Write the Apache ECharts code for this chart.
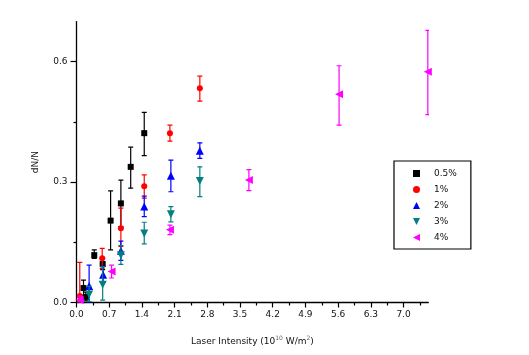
<!DOCTYPE html>
<html><head><meta charset="utf-8">
<script src="https://cdn.jsdelivr.net/npm/echarts@6/dist/echarts.min.js"></script>
<style>html,body{margin:0;padding:0;background:#fff}#c{width:529px;height:355px}</style>
</head><body><div id="c"></div>
<script>
// ---- data ----
const seriesNames = ['0.5%', '1%', '2%', '3%', '4%'];

const x05 = [0.15, 0.20, 0.38, 0.56, 0.73, 0.95, 1.16, 1.45];
const y05 = [0.036, 0.014, 0.118, 0.096, 0.204, 0.247, 0.338, 0.422];
const lo05 = [0.018, 0.004, 0.110, 0.082, 0.131, 0.189, 0.285, 0.366];
const hi05 = [0.056, 0.026, 0.131, 0.110, 0.278, 0.305, 0.387, 0.474];

const x1 = [0.07, 0.55, 0.95, 1.45, 2.00, 2.64];
const y1 = [0.016, 0.110, 0.185, 0.290, 0.422, 0.534];
const lo1 = [0.002, 0.085, 0.140, 0.260, 0.402, 0.502];
const hi1 = [0.100, 0.135, 0.235, 0.318, 0.442, 0.564];

const x2 = [0.27, 0.57, 0.95, 1.45, 2.02, 2.64];
const y2 = [0.041, 0.069, 0.129, 0.239, 0.316, 0.378];
const lo2 = [0.000, 0.050, 0.105, 0.214, 0.276, 0.359];
const hi2 = [0.093, 0.090, 0.153, 0.265, 0.355, 0.398];

const x3 = [0.27, 0.56, 0.95, 1.45, 2.02, 2.64];
const y3 = [0.020, 0.044, 0.118, 0.172, 0.220, 0.303];
const lo3 = [0.002, 0.006, 0.095, 0.146, 0.201, 0.264];
const hi3 = [0.040, 0.089, 0.142, 0.200, 0.239, 0.338];

const x4 = [0.07, 0.75, 2.00, 3.69, 5.62, 7.52];
const y4 = [0.006, 0.077, 0.181, 0.305, 0.519, 0.575];
const lo4 = [0.000, 0.061, 0.169, 0.279, 0.442, 0.468];
const hi4 = [0.016, 0.093, 0.193, 0.331, 0.590, 0.678];

const xMajorTicks = [0, 0.7, 1.4, 2.1, 2.8, 3.5, 4.2, 4.9, 5.6, 6.3, 7.0];
const xMinorTicks = [0.35, 1.05, 1.75, 2.45, 3.15, 3.85, 4.55, 5.25, 5.95, 6.65, 7.35];
const yMajorTicks = [0, 0.3, 0.6];
const yMinorTicks = [0.15, 0.45];

// ---- chart ----
const xs = [x05, x1, x2, x3, x4];
const ys = [y05, y1, y2, y3, y4];
const los = [lo05, lo1, lo2, lo3, lo4];
const his = [hi05, hi1, hi2, hi3, hi4];
const colors = ['#000000', '#ff0000', '#0000ff', '#008080', '#ff00ff'];
const symbols = ['rect', 'circle', 'triangle',
  'path://M0,0 L10,0 L5,10 Z', 'path://M10,0 L10,10 L0,5 Z'];
const sizes = [6, 6, 8, 8, 8];

const FONT = 'DejaVu Sans';
const series = [];
for (let i = 0; i < 5; i++) {
  const errData = xs[i].map((x, j) => [x, los[i][j], his[i][j]]);
  series.push({
    name: seriesNames[i] + ' err',
    type: 'custom',
    xAxisIndex: 0, yAxisIndex: 0,
    z: 2 + i * 2,
    clip: true,
    data: errData,
    encode: { x: 0, y: [1, 2] },
    renderItem: function (params, api) {
      const x = api.value(0);
      const p1 = api.coord([x, api.value(1)]);
      const p2 = api.coord([x, api.value(2)]);
      const w = 2.5;
      const st = { stroke: colors[i], lineWidth: 1.2, fill: null };
      return {
        type: 'group',
        children: [
          { type: 'line', shape: { x1: p1[0], y1: p1[1], x2: p2[0], y2: p2[1] }, style: st },
          { type: 'line', shape: { x1: p1[0] - w, y1: p1[1], x2: p1[0] + w, y2: p1[1] }, style: st },
          { type: 'line', shape: { x1: p2[0] - w, y1: p2[1], x2: p2[0] + w, y2: p2[1] }, style: st }
        ]
      };
    }
  });
  series.push({
    name: seriesNames[i],
    type: 'scatter',
    xAxisIndex: 0, yAxisIndex: 0,
    z: 3 + i * 2,
    symbol: symbols[i],
    symbolSize: sizes[i],
    itemStyle: { color: colors[i], opacity: 1 },
    data: xs[i].map((x, j) => [x, ys[i][j]])
  });
}

const chart = echarts.init(document.getElementById('c'), null, { renderer: 'canvas' });
chart.setOption({
  animation: false,
  backgroundColor: '#ffffff',
  grid: { left: 76.5, top: 21.6, right: 100.7, bottom: 52.5, containLabel: false },
  legend: {
    data: seriesNames,
    orient: 'vertical',
    left: 394, top: 161,
    padding: [8, 14, 7, 19],
    borderColor: '#000', borderWidth: 1.2,
    itemWidth: 7, itemHeight: 7, itemGap: 7,
    selectedMode: false,
    textStyle: { fontFamily: FONT, fontSize: 9, color: '#111', lineHeight: 8, padding: [0, 0, 0, 9] }
  },
  xAxis: [{
    type: 'value', min: 0, max: 7.53, position: 'bottom',
    name: 'Laser Intensity (10{s|10} W/m{s|2})',
    nameLocation: 'middle', nameGap: 33,
    nameTextStyle: { fontFamily: FONT, fontSize: 9, color: '#111',
      rich: { s: { fontSize: 6, color: '#666', padding: [0, 0, 6, 0], fontFamily: FONT } } },
    axisLine: { show: true, onZero: false, lineStyle: { color: '#000', width: 1.3 } },
    axisTick: { show: true, inside: false, length: 5, customValues: xMajorTicks, lineStyle: { color: '#000', width: 1.2 } },
    axisLabel: { show: true, margin: 8, customValues: xMajorTicks, fontFamily: FONT, fontSize: 9, color: '#111',
      formatter: v => v.toFixed(1) },
    splitLine: { show: false }
  }, {
    type: 'value', min: 0, max: 7.53, position: 'bottom',
    axisLine: { show: false, onZero: false },
    axisTick: { show: true, inside: false, length: 3, customValues: xMinorTicks, lineStyle: { color: '#000', width: 1.2 } },
    axisLabel: { show: false },
    splitLine: { show: false }
  }],
  yAxis: [{
    type: 'value', min: 0, max: 0.7, position: 'left',
    name: 'dN/N', nameLocation: 'middle', nameGap: 36,
    nameTextStyle: { fontFamily: FONT, fontSize: 9, color: '#111' },
    axisLine: { show: true, onZero: false, lineStyle: { color: '#000', width: 1.3 } },
    axisTick: { show: true, inside: false, length: 6, customValues: yMajorTicks, lineStyle: { color: '#000', width: 1.2 } },
    axisLabel: { show: true, margin: 9, customValues: yMajorTicks, fontFamily: FONT, fontSize: 9, color: '#111',
      formatter: v => v.toFixed(1) },
    splitLine: { show: false }
  }, {
    type: 'value', min: 0, max: 0.7, position: 'left',
    axisLine: { show: false, onZero: false },
    axisTick: { show: true, inside: false, length: 3, customValues: yMinorTicks, lineStyle: { color: '#000', width: 1.2 } },
    axisLabel: { show: false },
    splitLine: { show: false }
  }],
  series: series
});
</script>
</body></html>
